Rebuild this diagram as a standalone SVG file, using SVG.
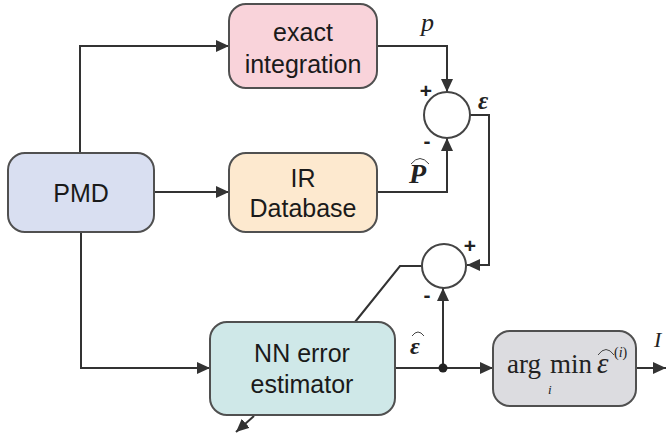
<svg xmlns="http://www.w3.org/2000/svg" width="667" height="434" viewBox="0 0 667 434">
<defs>
<marker id="arr" markerUnits="userSpaceOnUse" markerWidth="14" markerHeight="12" refX="13" refY="6" orient="auto">
<path d="M0,0 L13,6 L0,12 z" fill="#333"/>
</marker>
<style>
.box{stroke:#505050;stroke-width:2}
.lbl{font-family:"Liberation Sans",Arial,sans-serif;font-size:25px;fill:#1a1a1a;text-anchor:middle}
.ln{fill:none;stroke:#333;stroke-width:2}
.math{font-family:"Liberation Serif","Times New Roman",serif;fill:#222}
.sign{font-family:"Liberation Sans",Arial,sans-serif;font-size:21px;font-weight:bold;fill:#222;text-anchor:middle}
.hat{fill:none;stroke:#444;stroke-width:1}
</style>
</defs>
<g id="connectors">
<polyline class="ln" points="80,153 80,46 229,46" marker-end="url(#arr)"/>
<line class="ln" x1="154" y1="192" x2="229" y2="192" marker-end="url(#arr)"/>
<polyline class="ln" points="81,232 81,368 210,368" marker-end="url(#arr)"/>
<polyline class="ln" points="377,46 447,46 447,92" marker-end="url(#arr)"/>
<polyline class="ln" points="377,192 447,192 447,138" marker-end="url(#arr)"/>
<polyline class="ln" points="470,115 489,115 489,265 467,265" marker-end="url(#arr)"/>
<polyline class="ln" points="355,322 400,266 422,266"/>
<line class="ln" x1="395" y1="368" x2="493" y2="368" marker-end="url(#arr)"/>
<line class="ln" x1="443" y1="368" x2="443" y2="288" marker-end="url(#arr)"/>
<circle cx="443" cy="368" r="4.5" fill="#222"/>
<line class="ln" x1="636" y1="368" x2="666" y2="368" marker-end="url(#arr)"/>
<line class="ln" x1="254" y1="416" x2="236" y2="432" marker-end="url(#arr)"/>
</g>
<g id="pmd">
<rect class="box" x="8" y="153" width="146" height="79" rx="17" fill="#d9dff1"/>
<text class="lbl" x="81" y="202">PMD</text>
</g>
<g id="exact">
<rect class="box" x="229" y="4" width="148" height="84" rx="17" fill="#f9d3da"/>
<text class="lbl" x="303" y="41">exact</text>
<text class="lbl" x="303" y="73">integration</text>
</g>
<g id="ir">
<rect class="box" x="229" y="153" width="148" height="79" rx="17" fill="#fde9cf"/>
<text class="lbl" x="303" y="187">IR</text>
<text class="lbl" x="303" y="217">Database</text>
</g>
<g id="nn">
<rect class="box" x="210" y="322" width="185" height="93" rx="17" fill="#cfe8e8"/>
<text class="lbl" x="302" y="362">NN error</text>
<text class="lbl" x="302" y="393">estimator</text>
</g>
<g id="argmin">
<rect class="box" x="493" y="331" width="143" height="75" rx="17" fill="#dcdce0"/>
<text class="math" x="507" y="373" font-size="27">arg</text>
<text class="math" x="550" y="373" font-size="27">min</text>
<text class="math" x="548" y="394" font-size="13" font-style="italic">i</text>
<text class="math" x="597" y="373" font-size="29" font-style="italic">ε</text>
<path class="hat" d="M598,355 Q606,344 614,355"/>
<text class="math" x="614" y="357" font-size="14">(<tspan font-style="italic">i</tspan>)</text>
</g>
<g id="sum1">
<circle cx="447" cy="115" r="23" fill="#fff" stroke="#444" stroke-width="2"/>
<text class="sign" x="426" y="98">+</text>
<text class="sign" x="427" y="148">-</text>
</g>
<g id="sum2">
<circle cx="444" cy="266" r="22" fill="#fff" stroke="#444" stroke-width="2"/>
<text class="sign" x="470" y="253">+</text>
<text class="sign" x="427" y="302">-</text>
</g>
<g id="labels">
<text class="math" x="421" y="31" font-size="26" font-style="italic">p</text>
<text class="math" x="478" y="109" font-size="25" font-style="italic" font-weight="bold">ε</text>
<text class="math" x="409" y="183" font-size="28" font-style="italic" font-weight="bold">P</text>
<path class="hat" d="M411,164 Q420,153 429,164"/>
<text class="math" x="410" y="354" font-size="24" font-style="italic" font-weight="bold">ε</text>
<path class="hat" d="M412,336 Q418,328 424,336"/>
<text class="math" x="654" y="347" font-size="22" font-style="italic">I</text>
</g>
</svg>
